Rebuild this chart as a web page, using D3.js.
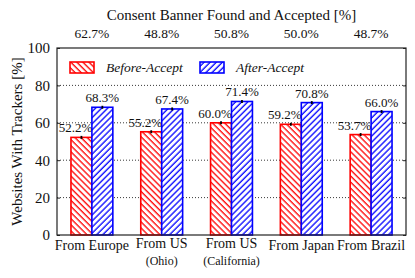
<!DOCTYPE html>
<html lang="en">
<head>
<meta charset="UTF-8">
<title>Websites With Trackers</title>
<style>
  body { margin: 0; background: #fff; }
  svg { display: block; }
</style>
</head>
<body>
<div id="chart"></div>
<script src="https://cdn.jsdelivr.net/npm/d3@7"></script>
<script>
// data
const line1 = ["From Europe", "From US", "From US", "From Japan", "From Brazil"];
const line2 = ["", "(Ohio)", "(California)", "", ""];
const beforeVals = [52.2, 55.2, 60.0, 59.2, 53.7];
const afterVals = [68.3, 67.4, 71.4, 70.8, 66.0];
const beforeErr = [0.8, 0.8, 0.8, 0.8, 0.8];
const afterErr = [0.8, 0.8, 0.8, 0.8, 0.8];
const consentVals = [62.7, 48.8, 50.8, 50.0, 48.7];
const yTicks = [0, 20, 40, 60, 80, 100];
const seriesNames = ["Before-Accept", "After-Accept"];

const FONT = "Liberation Serif";
const width = 415, height = 278;
const margin = { top: 48, right: 9, bottom: 43, left: 57 };
const innerW = width - margin.left - margin.right;
const innerH = height - margin.top - margin.bottom;

const svg = d3.select("#chart").append("svg")
    .attr("width", width)
    .attr("height", height)
    .attr("font-family", FONT)
    .attr("fill", "#111");

// hatch patterns
const defs = svg.append("defs");
function hatch(id, color, angle) {
    const p = defs.append("pattern")
        .attr("id", id)
        .attr("patternUnits", "userSpaceOnUse")
        .attr("width", 4.3)
        .attr("height", 10)
        .attr("patternTransform", `rotate(${angle})`);
    p.append("rect").attr("width", 4.3).attr("height", 10).attr("fill", "#fff");
    p.append("line")
        .attr("x1", 1).attr("x2", 1)
        .attr("y1", 0).attr("y2", 10)
        .attr("stroke", color)
        .attr("stroke-width", 1.3);
}
hatch("hatchRed", "#ff0000", -45);
hatch("hatchBlue", "#0000ff", 45);

const g = svg.append("g")
    .attr("transform", `translate(${margin.left},${margin.top})`);

const x0 = d3.scaleBand()
    .domain(d3.range(line1.length))
    .range([0, innerW])
    .paddingInner(0.4)
    .paddingOuter(0.2);
const x1 = d3.scaleBand()
    .domain([0, 1])
    .range([0, x0.bandwidth()]);
const y = d3.scaleLinear().domain([0, 100]).range([innerH, 0]);

// grid lines
g.append("g")
    .selectAll("line")
    .data(yTicks.filter(d => d > 0 && d < 100))
    .join("line")
    .attr("x1", 0).attr("x2", innerW)
    .attr("y1", d => y(d)).attr("y2", d => y(d))
    .attr("stroke", "#222")
    .attr("stroke-width", 0.9)
    .attr("stroke-dasharray", "1,2");

// y axis (ticks inward)
const yAxis = g.append("g")
    .call(d3.axisLeft(y).tickValues(yTicks).tickSize(-3).tickPadding(7));
yAxis.attr("font-family", FONT).attr("font-size", 15);
yAxis.select(".domain").remove();
yAxis.selectAll("text").attr("fill", "#111");
yAxis.selectAll("line").attr("stroke", "#222");

const yAxisR = g.append("g")
    .attr("transform", `translate(${innerW},0)`)
    .call(d3.axisRight(y).tickValues(yTicks).tickSize(-3).tickFormat(""));
yAxisR.select(".domain").remove();
yAxisR.selectAll("line").attr("stroke", "#222");

// bars
const series = [
    { name: seriesNames[0], vals: beforeVals, err: beforeErr, fill: "url(#hatchRed)", stroke: "#ff0000", dx: -6 },
    { name: seriesNames[1], vals: afterVals, err: afterErr, fill: "url(#hatchBlue)", stroke: "#0000ff", dx: 0 }
];

series.forEach((s, si) => {
    const sg = g.append("g");
    sg.selectAll("rect")
        .data(s.vals)
        .join("rect")
        .attr("x", (d, i) => x0(i) + x1(si))
        .attr("y", d => y(d))
        .attr("width", x1.bandwidth())
        .attr("height", d => innerH - y(d))
        .attr("fill", s.fill)
        .attr("stroke", s.stroke)
        .attr("stroke-width", 1.6);

    sg.selectAll("line.err")
        .data(s.vals)
        .join("line")
        .attr("class", "err")
        .attr("x1", (d, i) => x0(i) + x1(si) + x1.bandwidth() / 2)
        .attr("x2", (d, i) => x0(i) + x1(si) + x1.bandwidth() / 2)
        .attr("y1", (d, i) => y(d + s.err[i]))
        .attr("y2", (d, i) => y(d - s.err[i]))
        .attr("stroke", "#000")
        .attr("stroke-width", 1.8);

    sg.selectAll("text")
        .data(s.vals)
        .join("text")
        .attr("x", (d, i) => x0(i) + x1(si) + x1.bandwidth() / 2 + s.dx)
        .attr("y", d => y(d) - 5)
        .attr("text-anchor", "middle")
        .attr("font-size", 13)
        .text(d => d.toFixed(1) + "%");
});

// frame
g.append("rect")
    .attr("width", innerW)
    .attr("height", innerH)
    .attr("fill", "none")
    .attr("stroke", "#222")
    .attr("stroke-width", 1.2);

// x labels
const xl = g.append("g").attr("transform", `translate(0,${innerH})`);
xl.selectAll("text.l1")
    .data(line1)
    .join("text")
    .attr("class", "l1")
    .attr("x", (d, i) => x0(i) + x0.bandwidth() / 2)
    .attr("y", (d, i) => line2[i] ? 13 : 15)
    .attr("text-anchor", "middle")
    .attr("font-size", 14)
    .text(d => d);
xl.selectAll("text.l2")
    .data(line2)
    .join("text")
    .attr("class", "l2")
    .attr("x", (d, i) => x0(i) + x0.bandwidth() / 2)
    .attr("y", 30)
    .attr("text-anchor", "middle")
    .attr("font-size", 12)
    .text(d => d);

// top: consent values
g.selectAll("text.consent")
    .data(consentVals)
    .join("text")
    .attr("class", "consent")
    .attr("x", (d, i) => x0(i) + x0.bandwidth() / 2)
    .attr("y", -10)
    .attr("text-anchor", "middle")
    .attr("font-size", 13.5)
    .text(d => d.toFixed(1) + "%");

svg.append("text")
    .attr("x", margin.left + innerW / 2)
    .attr("y", 20)
    .attr("text-anchor", "middle")
    .attr("font-size", 15)
    .text("Consent Banner Found and Accepted [%]");

// y label
svg.append("text")
    .attr("transform", `translate(22,${margin.top + innerH / 2}) rotate(-90)`)
    .attr("text-anchor", "middle")
    .attr("font-size", 15)
    .text("Websites With Trackers [%]");

// legend
const legendX = [13, 143];
const lg = g.append("g").attr("transform", "translate(0,14)");
series.forEach((s, si) => {
    lg.append("rect")
        .attr("x", legendX[si])
        .attr("y", 0)
        .attr("width", 24)
        .attr("height", 11)
        .attr("fill", s.fill)
        .attr("stroke", s.stroke)
        .attr("stroke-width", 1.6);
    lg.append("text")
        .attr("x", legendX[si] + 36)
        .attr("y", 10)
        .attr("font-size", 13.5)
        .attr("font-style", "italic")
        .text(s.name);
});
</script>
</body>
</html>
